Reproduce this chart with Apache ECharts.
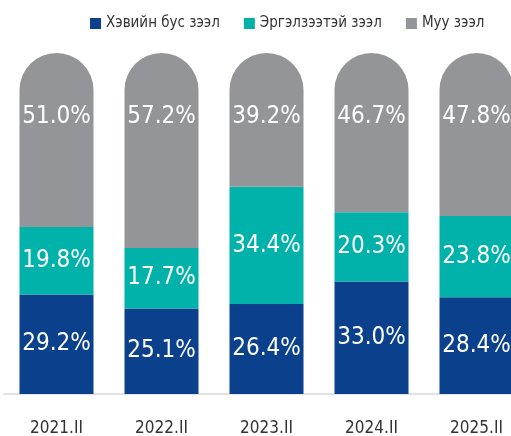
<!DOCTYPE html>
<html>
<head>
<meta charset="utf-8">
<script src="https://cdn.jsdelivr.net/npm/echarts@6/dist/echarts.min.js"></script>
<style>
  html, body { margin: 0; padding: 0; background: #ffffff; }
  #chart { width: 511px; height: 436px; }
</style>
</head>
<body>
<div id="chart"></div>
<script>
// Loan quality shares by period (percent of portfolio)
const periods = ['2021.II', '2022.II', '2023.II', '2024.II', '2025.II'];
const seriesNames = ['Хэвийн бус зээл', 'Эргэлзээтэй зээл', 'Муу зээл'];
const nonPerforming = [29.2, 25.1, 26.4, 33.0, 28.4];
const doubtful = [19.8, 17.7, 34.4, 20.3, 23.8];
const bad = [51.0, 57.2, 39.2, 46.7, 47.8];

const colors = ['#0b418c', '#00b2a9', '#939598'];
const FONT = '"DejaVu Sans Condensed", "Liberation Sans Narrow", "Arial Narrow", sans-serif';

const chart = echarts.init(document.getElementById('chart'), null, { renderer: 'canvas' });

const valueLabel = {
  show: true,
  color: '#ffffff',
  fontFamily: FONT,
  fontSize: 24,
  formatter: p => p.value.toFixed(1) + '%'
};

chart.setOption({
  animation: false,
  color: colors,
  legend: {
    left: 85,
    top: 11,
    width: 430,
    itemWidth: 11,
    itemHeight: 11,
    itemGap: 24,
    icon: 'rect',
    textStyle: { fontFamily: FONT, fontSize: 15, color: '#333333' },
    data: seriesNames
  },
  // the last column runs past the right edge of the canvas
  grid: { left: 4, width: 525, top: 53, bottom: 42, outerBoundsMode: 'none' },
  xAxis: {
    type: 'category',
    data: periods,
    axisTick: { show: false },
    axisLine: { lineStyle: { color: '#d9d9d9', width: 1.5 } },
    axisLabel: { fontFamily: FONT, fontSize: 17, color: '#333333', margin: 26 }
  },
  yAxis: { type: 'value', min: 0, max: 100, show: false, splitLine: { show: false } },
  series: [
    {
      name: seriesNames[0], type: 'bar', stack: 'total', barWidth: 74,
      data: nonPerforming,
      label: Object.assign({ position: 'inside' }, valueLabel)
    },
    {
      name: seriesNames[1], type: 'bar', stack: 'total', barWidth: 74,
      data: doubtful,
      label: Object.assign({ position: 'inside' }, valueLabel)
    },
    {
      name: seriesNames[2], type: 'bar', stack: 'total', barWidth: 74,
      data: bad,
      itemStyle: { borderRadius: [37, 37, 0, 0] },
      label: Object.assign({ position: 'insideTop', distance: 52 }, valueLabel)
    }
  ]
});
</script>
</body>
</html>
